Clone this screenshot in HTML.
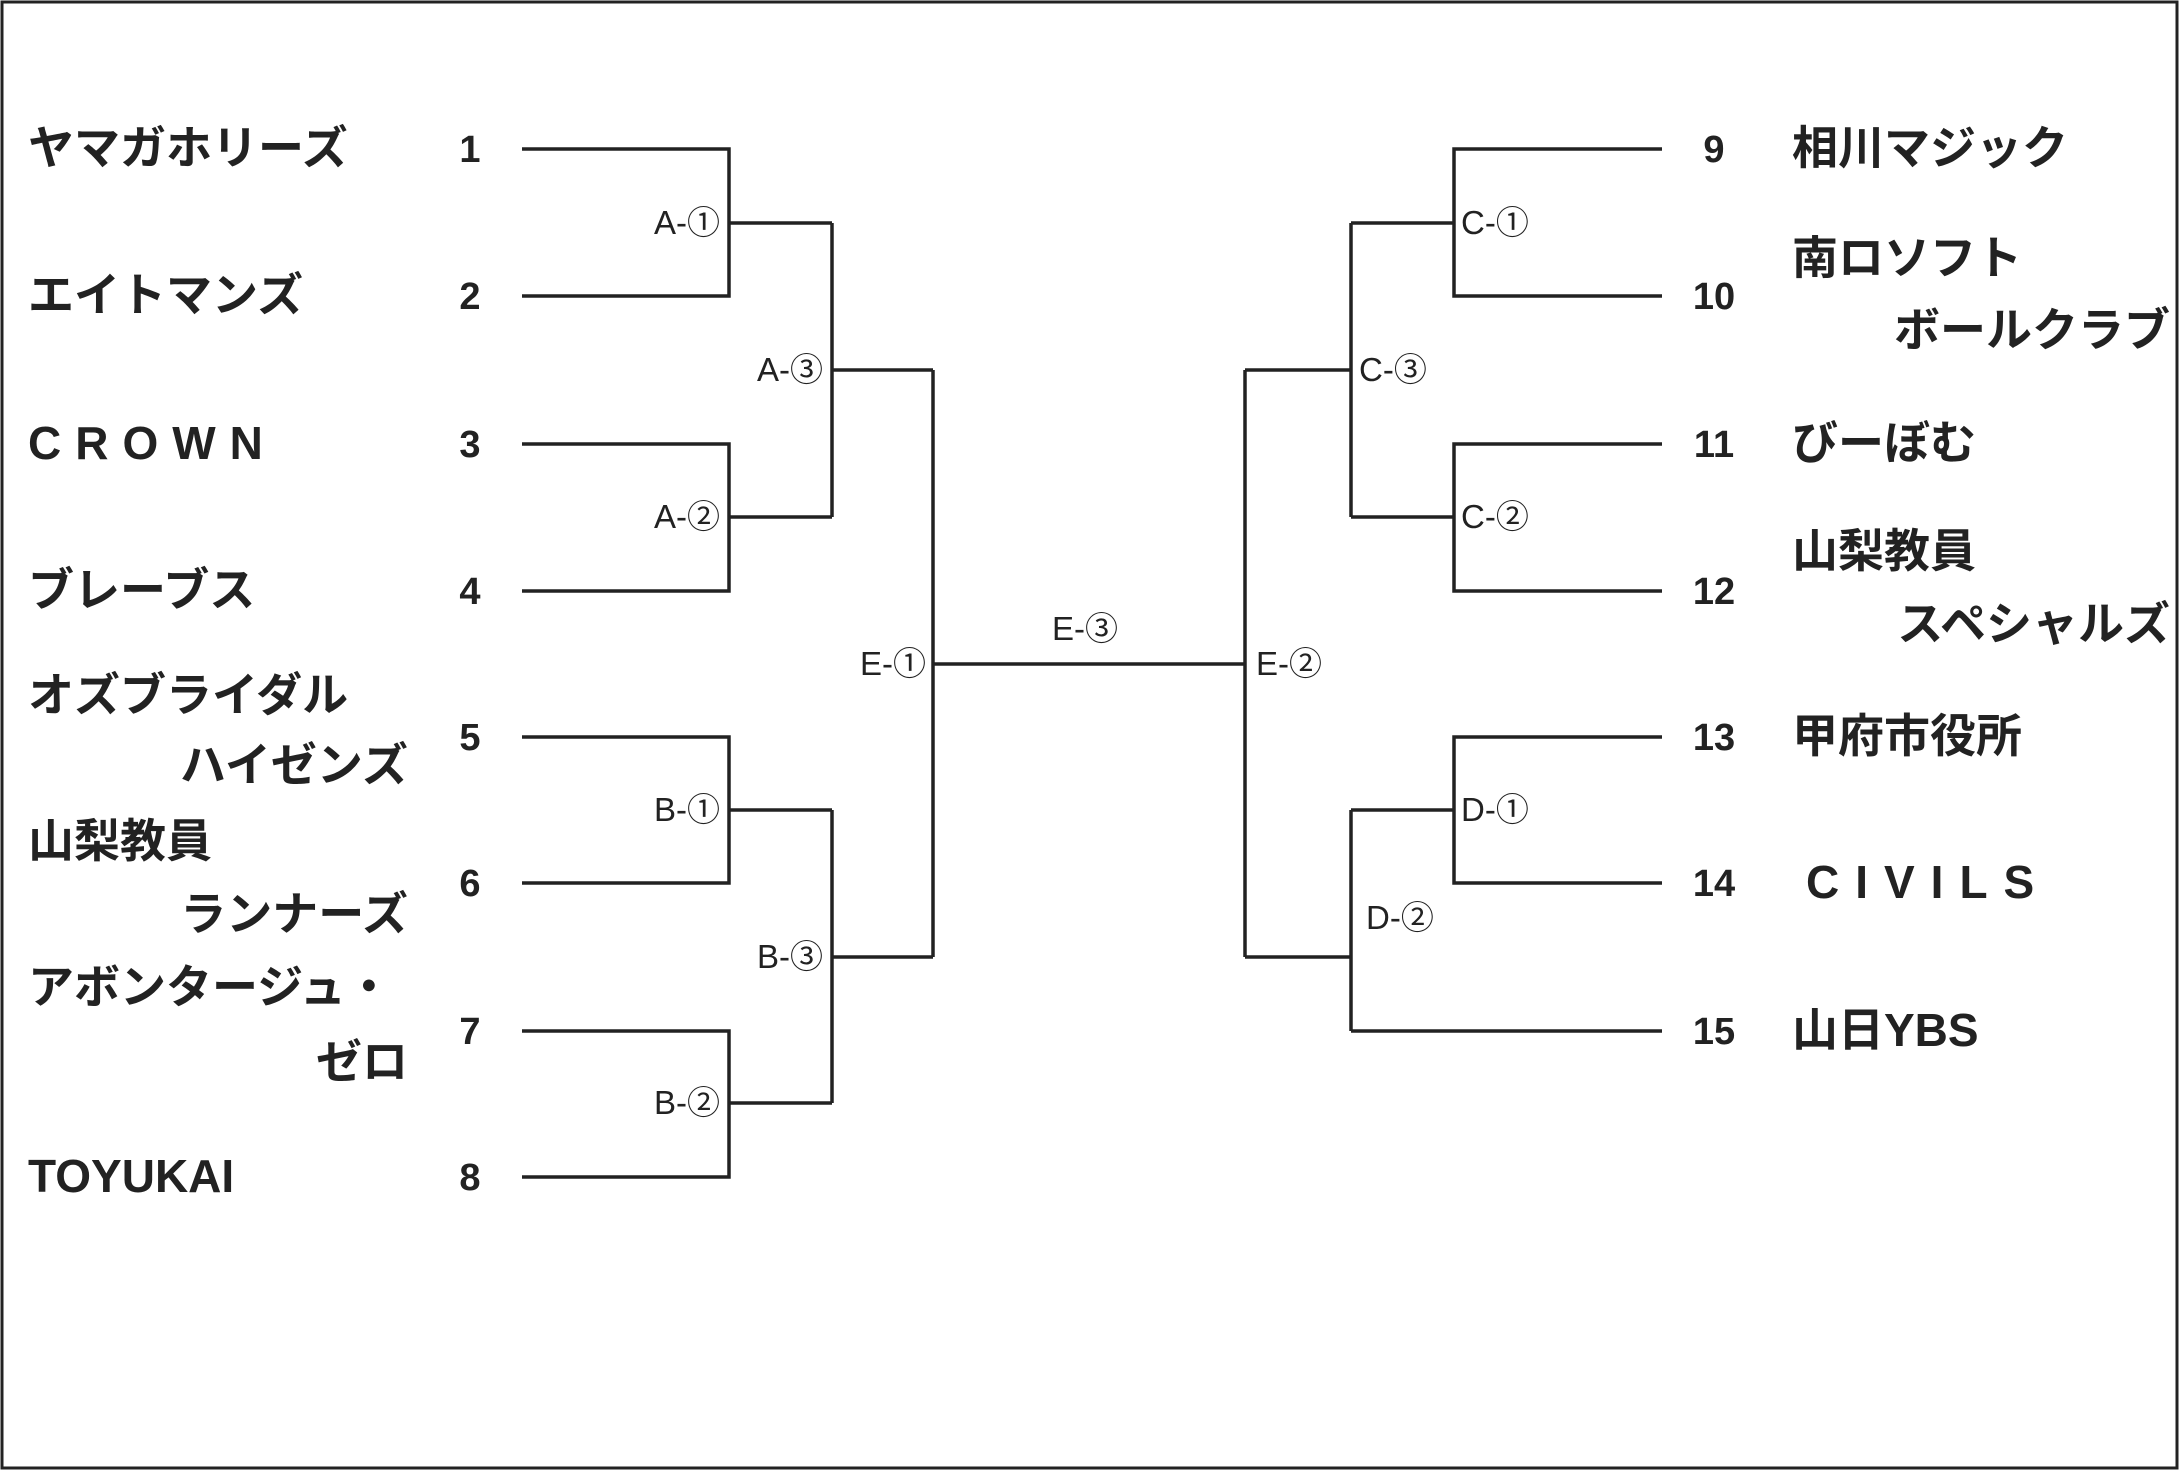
<!DOCTYPE html>
<html><head><meta charset="utf-8"><style>
html,body{margin:0;padding:0;background:#fff}
svg{display:block}
.t{font-family:"Liberation Sans","Noto Sans CJK JP",sans-serif;font-weight:bold;font-size:46px;fill:#222}
.n{font-family:"Liberation Sans",sans-serif;font-weight:bold;font-size:38px;fill:#222}
.l{font-family:"Liberation Sans","Noto Sans CJK JP",sans-serif;font-size:33px;fill:#222}
</style></head><body>
<svg width="2181" height="1471" viewBox="0 0 2181 1471">
<rect x="2" y="2" width="2175" height="1466" fill="none" stroke="#222" stroke-width="3"/>
<g stroke="#222" stroke-width="3.5" fill="none">
<polyline points="522,149 729,149 729,296 522,296"/>
<line x1="729" y1="223" x2="832" y2="223"/>
<polyline points="522,444 729,444 729,591 522,591"/>
<line x1="729" y1="517" x2="832" y2="517"/>
<line x1="832" y1="223" x2="832" y2="517"/>
<line x1="832" y1="370" x2="933" y2="370"/>
<polyline points="522,737 729,737 729,883 522,883"/>
<line x1="729" y1="810" x2="832" y2="810"/>
<polyline points="522,1031 729,1031 729,1177 522,1177"/>
<line x1="729" y1="1103" x2="832" y2="1103"/>
<line x1="832" y1="810" x2="832" y2="1103"/>
<line x1="832" y1="957" x2="933" y2="957"/>
<line x1="933" y1="370" x2="933" y2="957"/>
<line x1="933" y1="664" x2="1245" y2="664"/>
<line x1="1245" y1="370" x2="1245" y2="957"/>
<line x1="1245" y1="370" x2="1351" y2="370"/>
<line x1="1245" y1="957" x2="1351" y2="957"/>
<polyline points="1662,149 1454,149 1454,296 1662,296"/>
<polyline points="1662,444 1454,444 1454,591 1662,591"/>
<line x1="1351" y1="223" x2="1454" y2="223"/>
<line x1="1351" y1="517" x2="1454" y2="517"/>
<line x1="1351" y1="223" x2="1351" y2="517"/>
<polyline points="1662,737 1454,737 1454,883 1662,883"/>
<line x1="1351" y1="810" x2="1454" y2="810"/>
<line x1="1351" y1="810" x2="1351" y2="1031"/>
<line x1="1351" y1="1031" x2="1662" y2="1031"/>
</g>
<g class="l">
<text x="720" y="234" text-anchor="end">A-①</text>
<text x="720" y="528" text-anchor="end">A-②</text>
<text x="823" y="381" text-anchor="end">A-③</text>
<text x="720" y="821" text-anchor="end">B-①</text>
<text x="720" y="1114" text-anchor="end">B-②</text>
<text x="823" y="968" text-anchor="end">B-③</text>
<text x="926" y="675" text-anchor="end">E-①</text>
<text x="1085" y="640" text-anchor="middle">E-③</text>
<text x="1256" y="675">E-②</text>
<text x="1461" y="234">C-①</text>
<text x="1461" y="528">C-②</text>
<text x="1359" y="381">C-③</text>
<text x="1461" y="821">D-①</text>
<text x="1366" y="929">D-②</text>
</g>
<g class="n" text-anchor="middle">
<text x="470" y="162">1</text><text x="470" y="309">2</text><text x="470" y="457">3</text><text x="470" y="604">4</text>
<text x="470" y="750">5</text><text x="470" y="896">6</text><text x="470" y="1044">7</text><text x="470" y="1190">8</text>
<text x="1714" y="162">9</text><text x="1714" y="309">10</text><text x="1714" y="457">11</text><text x="1714" y="604">12</text>
<text x="1714" y="750">13</text><text x="1714" y="896">14</text><text x="1714" y="1044">15</text>
</g>
<g class="t">
<text x="28" y="164">ヤマガホリーズ</text>
<text x="28" y="311">エイトマンズ</text>
<text x="28" y="459" letter-spacing="14">CROWN</text>
<text x="28" y="606">ブレーブス</text>
<text x="28" y="711">オズブライダル</text>
<text x="408" y="781" text-anchor="end">ハイゼンズ</text>
<text x="28" y="857">山梨教員</text>
<text x="408" y="930" text-anchor="end">ランナーズ</text>
<text x="28" y="1003">アボンタージュ・</text>
<text x="408" y="1078" text-anchor="end">ゼロ</text>
<text x="28" y="1192">TOYUKAI</text>
<text x="1792" y="164">相川マジック</text>
<text x="1792" y="274">南ロソフト</text>
<text x="2170" y="346" text-anchor="end">ボールクラブ</text>
<text x="1792" y="459">びーぼむ</text>
<text x="1792" y="567">山梨教員</text>
<text x="2170" y="640" text-anchor="end">スペシャルズ</text>
<text x="1792" y="752">甲府市役所</text>
<text x="1806" y="898" letter-spacing="16">CIVILS</text>
<text x="1792" y="1046">山日YBS</text>
</g>
</svg>
</body></html>
